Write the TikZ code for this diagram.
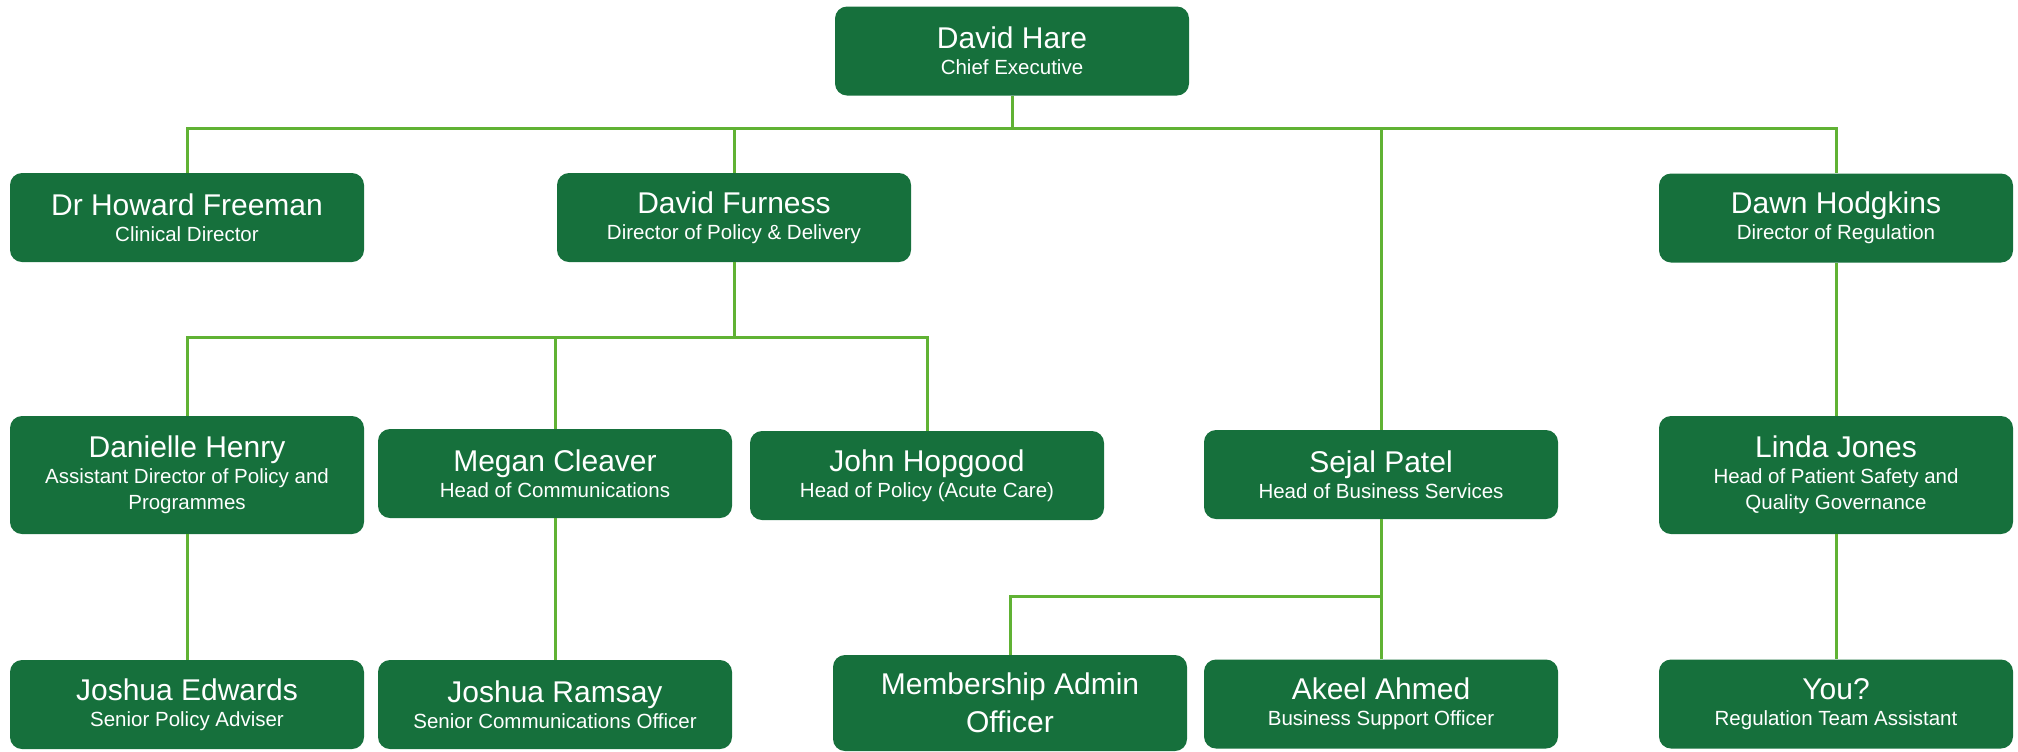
\documentclass[tikz,border=0pt]{standalone}
\usepackage{fontspec}
\setmainfont{Liberation Sans}
\definecolor{boxgreen}{RGB}{22,112,60}
\definecolor{linegreen}{RGB}{96,178,52}
\newcommand{\pname}[1]{{\fontsize{15}{15}\selectfont #1}}
\begin{document}
\begin{tikzpicture}[x=0.5pt,y=-0.5pt,
  person/.style={rectangle, rounded corners=6pt, fill=boxgreen, text=white,
    minimum width=177pt, minimum height=44.5pt, inner sep=0pt, align=center,
    font=\fontsize{10.25}{13}\selectfont},
  tall/.style={minimum height=59pt},
  big/.style={minimum height=48pt, font=\fontsize{15}{19}\selectfont},
  conn/.style={draw=linegreen, line width=1.5pt}]
\useasboundingbox (0,0) rectangle (2018,751);
% row 0
\node[person] (hare) at (1012,51) {\pname{David Hare}\\Chief Executive};
% row 1
\node[person] (freeman) at (187,217.5) {\pname{Dr Howard Freeman}\\Clinical Director};
\node[person] (furness) at (734,217.5) {\pname{David Furness}\\Director of Policy \& Delivery};
\node[person] (hodgkins) at (1836,218) {\pname{Dawn Hodgkins}\\Director of Regulation};
% row 2
\node[person,tall] (danielle) at (187,475) {\pname{Danielle Henry}\\Assistant Director of Policy and\\Programmes};
\node[person] (megan) at (555,473.5) {\pname{Megan Cleaver}\\Head of Communications};
\node[person] (john) at (927,475.5) {\pname{John Hopgood}\\Head of Policy (Acute Care)};
\node[person] (sejal) at (1381,474.5) {\pname{Sejal Patel}\\Head of Business Services};
\node[person,tall] (linda) at (1836,475) {\pname{Linda Jones}\\Head of Patient Safety and\\Quality Governance};
% row 3
\node[person] (jedwards) at (187,704.5) {\pname{Joshua Edwards}\\Senior Policy Adviser};
\node[person] (jramsay) at (555,704.5) {\pname{Joshua Ramsay}\\Senior Communications Officer};
\node[person,big] (member) at (1010,703) {Membership Admin\\Officer};
\node[person] (akeel) at (1381,704) {\pname{Akeel Ahmed}\\Business Support Officer};
\node[person] (you) at (1836,704) {\pname{You?}\\Regulation Team Assistant};
% bus coordinates
\coordinate (b1) at (1012,128);
\coordinate (b2) at (734,337);
\coordinate (b3) at (1381,596);
% connectors
\draw[conn] (hare.south) -- (b1);
\draw[conn] (freeman.north) |- (b1) -| (hodgkins.north);
\draw[conn] (furness.north) -- (furness.north |- b1);
\draw[conn] (sejal.north) -- (sejal.north |- b1);
\draw[conn] (furness.south) -- (b2);
\draw[conn] (danielle.north) |- (b2) -| (john.north);
\draw[conn] (megan.north) -- (megan.north |- b2);
\draw[conn] (danielle.south) -- (jedwards.north);
\draw[conn] (megan.south) -- (jramsay.north);
\draw[conn] (hodgkins.south) -- (linda.north);
\draw[conn] (linda.south) -- (you.north);
\draw[conn] (sejal.south) -- (akeel.north);
\draw[conn] (member.north) |- (b3);
\end{tikzpicture}
\end{document}
